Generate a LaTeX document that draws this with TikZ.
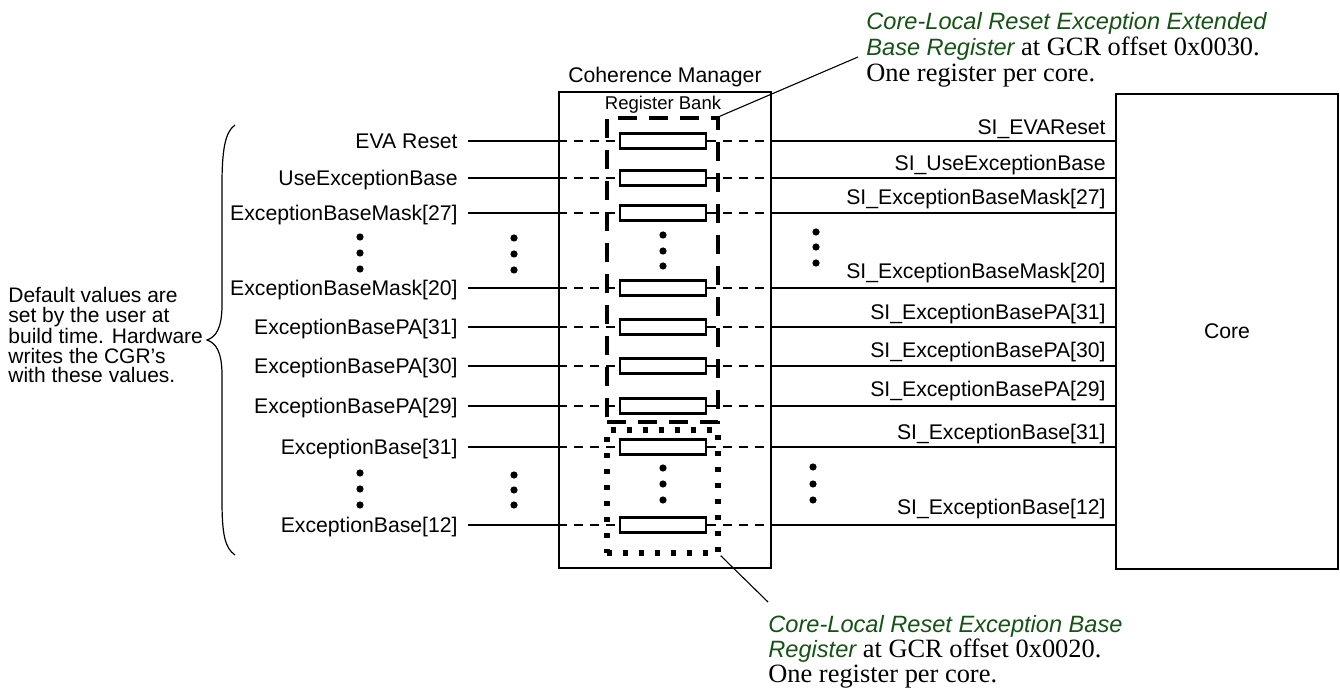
\documentclass[tikz,border=0pt]{standalone}
\usepackage{fontspec}
\setmainfont{Liberation Sans}
\newfontfamily\serfont{Liberation Serif}
\definecolor{anngreen}{RGB}{22,82,22}
\begin{document}
\begin{tikzpicture}[x=0.5pt,y=-0.5pt,
  lbl/.style={font=\fontsize{10.6}{12}\selectfont, inner sep=0pt},
  reg/.style={draw, line width=1.1pt, minimum width=43pt, minimum height=7.5pt, inner sep=0pt, fill=white},
  sig/.style={line width=1.1pt},
  sigd/.style={line width=1.1pt, dash pattern=on 4.5pt off 3.5pt},
  vdot/.style={circle, fill, inner sep=0pt, minimum size=3.6pt},
  blk/.style={draw, line width=1.1pt, inner sep=0pt},
  bankbox/.style={draw, line width=1.7pt, dash pattern=on 9.5pt off 6pt, inner sep=0pt, minimum width=55.5pt},
  dotbox/.style={draw, line width=2.7pt, dash pattern=on 2.7pt off 5.3pt, inner sep=0pt, minimum width=55.5pt},
  leader/.style={line width=0.55pt},
  anni/.style={font=\fontsize{11.8}{13}\selectfont\itshape, text=anngreen},
  anns/.style={font=\fontsize{13.2}{14}\selectfont\serfont},
  ann/.style={inner sep=0pt, anchor=base west}
]
\useasboundingbox (0,0) rectangle (1340,695);
% blocks
\node[blk, minimum width=106pt, minimum height=238pt] (cm) at (665,330) {};
\node[blk, minimum width=111pt, minimum height=237.5pt] (core) at (1227,331.5) {};
\node[lbl] (coretxt) at (core.center) {Core};
\node[lbl, anchor=base] (cmtxt) at (665,82.5) {Coherence Manager};
\node[inner sep=0pt, anchor=base, font=\fontsize{9.25}{10}\selectfont] (banktxt) at (663,109.6) {Register Bank};
\node[bankbox, minimum height=152pt] (bank) at (662.5,270) {};
\node[dotbox, minimum height=61.5pt] (dbox) at (662.5,491.5) {};
% rows
\foreach \i/\y/\lt/\rt/\ry in {
  1/141/{EVA Reset}/{SI\_EVAReset}/134.5,
  2/178/{UseExceptionBase}/{SI\_UseExceptionBase}/170.5,
  3/213/{ExceptionBaseMask[27]}/{SI\_ExceptionBaseMask[27]}/204.5,
  4/288/{ExceptionBaseMask[20]}/{SI\_ExceptionBaseMask[20]}/278.5,
  5/327/{ExceptionBasePA[31]}/{SI\_ExceptionBasePA[31]}/319.5,
  6/366/{ExceptionBasePA[30]}/{SI\_ExceptionBasePA[30]}/357.5,
  7/406/{ExceptionBasePA[29]}/{SI\_ExceptionBasePA[29]}/396.5,
  8/447/{ExceptionBase[31]}/{SI\_ExceptionBase[31]}/439.5,
  9/525/{ExceptionBase[12]}/{SI\_ExceptionBase[12]}/514.5}{
  \node[reg] (r\i) at (663,\y) {};
  \node[lbl, anchor=base east] (l\i) at (458,\y+7.5) {\lt};
  \node[lbl, anchor=base east] (o\i) at (1106,\ry) {\rt};
  \draw[sig] ([xshift=5pt]l\i.east |- r\i.center) -- (cm.west |- r\i.center);
  \draw[sigd] (cm.west |- r\i.center) -- (r\i.west);
  \draw[sigd] (r\i.east) -- (cm.east |- r\i.center);
  \draw[sig] (cm.east |- r\i.center) -- (core.west |- r\i.center);
}
% ellipsis dots
\foreach \x/\a/\b/\c in {360/237/253/269, 514/238/254/270, 663/235/251/266, 816/232/247/263,
                         360/473/489/505, 514/475/490/505, 663/468/484/500, 813/467/484/500}{
  \node[vdot] at (\x,\a) {};
  \node[vdot] at (\x,\b) {};
  \node[vdot] at (\x,\c) {};
}
% brace and left text
\draw[line width=0.6pt] (235,125) .. controls (225,132) and (222,150) .. (222,185)
  -- (222,305) .. controls (222,328) and (216,337) .. (207,340)
  .. controls (216,343) and (222,352) .. (222,375)
  -- (222,500) .. controls (222,535) and (225,548) .. (235,555);
\node[inner sep=0pt, anchor=base west, align=left, font=\fontsize{10.5}{9.75}\selectfont] (deflt) at (8,383)
  {Default values are\\set by the user at\\build time. Hardware\\writes the CGR's\\with these values.};
% annotations
\coordinate (ta) at (858,57);
\coordinate (ba) at (768,602);
\draw[leader] (bank.north east) -- (ta);
\draw[leader] (dbox.south east) -- (ba);
\node[ann, anni] (t1) at (866,30) {Core-Local Reset Exception Extended};
\node[ann] (t2) at (866,56) {{\fontsize{11.8}{13}\selectfont\itshape\color{anngreen}Base Register}{\fontsize{13.2}{14}\selectfont\serfont{} at GCR offset 0x0030.}};
\node[ann, anns] (t3) at (866,82) {One register per core.};
\node[ann, anni] (b1) at (768,632) {Core-Local Reset Exception Base};
\node[ann] (b2) at (768,657) {{\fontsize{11.8}{13}\selectfont\itshape\color{anngreen}Register}{\fontsize{13.2}{14}\selectfont\serfont{} at GCR offset 0x0020.}};
\node[ann, anns] (b3) at (768,682) {One register per core.};
\end{tikzpicture}
\end{document}
